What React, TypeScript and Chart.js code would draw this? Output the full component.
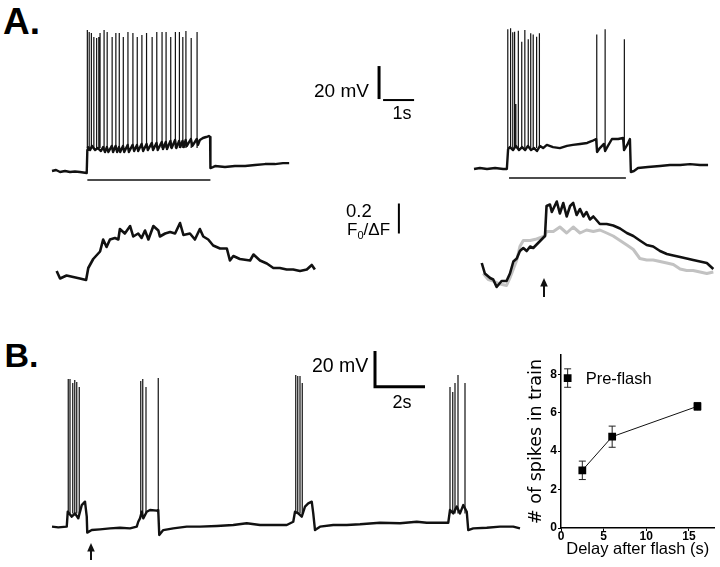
import React, { useEffect, useRef } from "react";
import { Chart, registerables } from "chart.js";

Chart.register(...registerables);

const SANS = "'Liberation Sans', Arial, Helvetica, sans-serif";
Chart.defaults.font.family = SANS;

// ================= DATA =================
// Panel A, left: membrane potential during a current step (time s, Vm mV)
const aLeftTime = [0, 0.13, 0.26, 0.42, 0.58, 0.74, 0.9, 1.12, 1.14, 1.16, 1.23, 1.29, 1.39, 1.48, 1.58, 1.65, 1.71, 1.77, 1.82, 1.93, 1.97, 2.05, 2.1, 2.16, 2.2, 2.29, 2.33, 2.44, 2.48, 2.6, 2.65, 2.74, 2.78, 2.89, 2.94, 3.05, 3.09, 3.22, 3.26, 3.37, 3.41, 3.54, 3.58, 3.67, 3.71, 3.82, 3.86, 3.97, 4.01, 4.1, 4.14, 4.21, 4.25, 4.31, 4.35, 4.48, 4.53, 4.67, 4.71, 4.77, 4.87, 4.97, 5.06, 5.1, 5.11, 5.19, 5.26, 5.58, 5.9, 6.23, 6.55, 6.87, 7.19, 7.45, 7.65];
const aLeftVm = [-60, -59.4, -60.6, -60, -60.6, -60.3, -60.6, -61.2, -47.3, -45.5, -47.3, -44.8, -47.3, -46.1, -47.9, -45.5, -48.5, -45.5, -48.5, -44.8, -48.5, -44.8, -48.5, -45.5, -48.5, -44.8, -48.5, -44.2, -48.5, -44.2, -47.9, -44.2, -47.9, -43.6, -47.9, -43.6, -47.3, -43, -47.3, -43, -47.3, -42.4, -46.7, -42.4, -46.7, -41.8, -46.1, -41.2, -46.1, -41.8, -45.5, -41.8, -45.5, -41.2, -44.8, -40.6, -44.8, -40.6, -44.2, -41.2, -40, -39.4, -38.8, -39.4, -58.2, -57.6, -57, -57.6, -57, -57, -56.4, -55.8, -55.8, -55.2, -55.2];
const aLeftSpikeTime = [1.14, 1.2, 1.27, 1.35, 1.44, 1.51, 1.55, 1.68, 1.78, 1.94, 2.06, 2.17, 2.3, 2.45, 2.61, 2.75, 2.9, 3.05, 3.23, 3.38, 3.55, 3.68, 3.83, 3.98, 4.11, 4.22, 4.32, 4.49, 4.68];
const aLeftSpikePeak = [25.5, 24.2, 23.6, 21.2, 20.6, 21.2, 23.6, 25.5, 24.2, 21.2, 23.6, 23.6, 21.2, 24.2, 23.6, 21.2, 22.4, 23.6, 21.2, 24.2, 24.2, 24.2, 21.2, 24.2, 24.2, 21.2, 24.8, 20.6, 24.2];
const aLeftStep = [1.14, 5.11]; // current step on / off (s)

// Panel A, right: membrane potential, flash during the step
const aRightTime = [0, 0.19, 0.42, 0.68, 0.94, 1.06, 1.1, 1.16, 1.26, 1.35, 1.45, 1.55, 1.65, 1.74, 1.84, 1.94, 2.03, 2.13, 2.23, 2.35, 2.55, 2.77, 3.0, 3.19, 3.42, 3.65, 3.81, 3.94, 3.97, 4.06, 4.19, 4.23, 4.32, 4.45, 4.65, 4.81, 4.84, 4.94, 5.03, 5.06, 5.16, 5.29, 5.61, 6.0, 6.32, 6.65, 6.97, 7.29, 7.55];
const aRightVm = [-58.8, -58.2, -58.8, -58.2, -58.8, -58.8, -46.7, -45.5, -47.3, -44.8, -47.3, -45.5, -47.3, -44.8, -47.3, -46.1, -47.9, -44.8, -46.1, -44.2, -45.5, -46.1, -44.8, -44.2, -43.6, -43, -41.8, -40.6, -48.5, -46.1, -43.6, -47.9, -44.8, -40.6, -40.6, -40, -47.3, -44.2, -40.6, -60.6, -60, -58.2, -57.6, -57, -56.4, -56.4, -55.8, -56.4, -56.4];
const aRightSpikeTime = [1.09, 1.18, 1.25, 1.31, 1.35, 1.43, 1.54, 1.64, 1.75, 1.83, 1.91, 2.02, 2.11, 3.96, 4.23, 4.85];
const aRightSpikePeak = [25.9, 26.5, 24.1, 24.4, -19.4, 25.0, 18.4, 25.5, 19.8, 23.5, 22.8, 21.4, 23.5, 22.8, 25.9, 19.8];
const aRightStep = [1.13, 4.9];
const aFlashTime = 2.26;

// Panel A, calcium (F0/ΔF)
const caLeftTime = [0.15, 0.26, 0.47, 0.9, 1.1, 1.17, 1.33, 1.55, 1.65, 1.76, 1.87, 2.03, 2.14, 2.19, 2.35, 2.52, 2.62, 2.78, 2.89, 3.0, 3.11, 3.27, 3.43, 3.48, 3.65, 3.81, 3.97, 4.13, 4.24, 4.45, 4.61, 4.77, 4.88, 5.04, 5.2, 5.42, 5.64, 5.74, 5.85, 6.06, 6.39, 6.5, 6.71, 6.93, 7.14, 7.35, 7.57, 7.78, 8.0, 8.22, 8.38, 8.48];
const caLeftF = [0.06, 0.01, 0.03, 0.01, 0.0, 0.08, 0.14, 0.19, 0.27, 0.22, 0.27, 0.28, 0.27, 0.34, 0.31, 0.36, 0.29, 0.31, 0.28, 0.33, 0.27, 0.36, 0.33, 0.29, 0.31, 0.32, 0.31, 0.38, 0.3, 0.31, 0.27, 0.34, 0.29, 0.27, 0.23, 0.21, 0.21, 0.13, 0.16, 0.14, 0.13, 0.17, 0.13, 0.11, 0.08, 0.08, 0.07, 0.07, 0.06, 0.07, 0.1, 0.07];
const caFlashTime = [0.25, 0.35, 0.52, 0.62, 0.73, 0.89, 1.05, 1.16, 1.27, 1.38, 1.48, 1.59, 1.7, 1.81, 1.91, 2.29, 2.34, 2.45, 2.51, 2.67, 2.77, 2.88, 2.99, 3.1, 3.2, 3.31, 3.42, 3.53, 3.63, 3.74, 3.85, 4.06, 4.28, 4.49, 4.71, 4.93, 5.14, 5.35, 5.57, 5.78, 6.0, 6.22, 6.43, 6.65, 6.86, 7.07, 7.29, 7.51, 7.72];
const caFlashF = [0.16, 0.09, 0.06, 0.05, 0.0, 0.04, 0.04, 0.09, 0.17, 0.19, 0.24, 0.26, 0.24, 0.27, 0.26, 0.34, 0.54, 0.55, 0.5, 0.57, 0.49, 0.56, 0.47, 0.54, 0.56, 0.48, 0.52, 0.47, 0.5, 0.45, 0.47, 0.42, 0.42, 0.41, 0.39, 0.36, 0.34, 0.31, 0.28, 0.27, 0.24, 0.22, 0.21, 0.2, 0.19, 0.18, 0.17, 0.16, 0.12];
const caControlTime = [0.3, 0.46, 0.62, 0.84, 1.05, 1.16, 1.38, 1.48, 1.59, 1.81, 2.02, 2.29, 2.34, 2.56, 2.77, 2.99, 3.2, 3.42, 3.63, 3.85, 4.06, 4.28, 4.49, 4.71, 4.93, 5.14, 5.35, 5.57, 5.78, 6.0, 6.22, 6.43, 6.65, 6.86, 7.07, 7.29, 7.51, 7.72];
const caControlF = [0.09, 0.05, 0.04, 0.02, 0.01, 0.06, 0.18, 0.27, 0.31, 0.31, 0.32, 0.34, 0.37, 0.37, 0.4, 0.36, 0.4, 0.36, 0.38, 0.37, 0.38, 0.36, 0.34, 0.31, 0.28, 0.25, 0.19, 0.18, 0.18, 0.17, 0.16, 0.15, 0.12, 0.11, 0.11, 0.1, 0.09, 0.1];

// Panel B: spontaneous bursts, flash at arrow
const bTime = [0, 0.25, 0.59, 0.63, 0.79, 0.92, 1.05, 1.19, 1.32, 1.39, 1.41, 1.59, 1.92, 2.32, 2.72, 3.12, 3.39, 3.45, 3.52, 3.59, 3.65, 3.79, 3.92, 4.19, 4.25, 4.29, 4.45, 4.85, 5.39, 5.92, 6.59, 7.25, 7.79, 8.32, 8.85, 9.39, 9.65, 9.72, 9.85, 9.99, 10.12, 10.25, 10.39, 10.45, 10.52, 10.72, 11.25, 11.79, 12.32, 13.12, 13.92, 14.59, 14.99, 15.85, 15.92, 16.05, 16.19, 16.32, 16.45, 16.59, 16.65, 16.85, 17.39, 17.92, 18.45, 18.72];
const bVm = [-59.8, -60.2, -59.8, -51.0, -53.9, -52.0, -54.9, -47.1, -45.1, -53.9, -63.3, -61.8, -61.4, -60.8, -60.4, -60.8, -59.8, -56.9, -54.9, -51.0, -54.9, -51.0, -50.0, -50.4, -50.0, -64.7, -61.8, -60.8, -59.8, -59.8, -59.4, -58.8, -57.8, -58.8, -58.8, -58.8, -56.9, -51.0, -52.0, -53.9, -48.0, -46.1, -45.1, -52.0, -61.8, -59.8, -58.8, -58.8, -58.4, -57.5, -57.8, -56.9, -57.5, -57.5, -50.0, -52.0, -48.0, -52.0, -47.1, -51.0, -61.8, -60.8, -60.4, -59.8, -59.8, -60.8];
const bSpikeTime = [0.65, 0.72, 0.83, 0.91, 0.99, 1.09, 3.55, 3.63, 3.76, 4.25, 9.75, 9.83, 9.92, 10.01, 15.92, 16.03, 16.12, 16.24, 16.52];
const bSpikePeak = [27.1, 27.1, 24.7, 26.5, 25.3, 22.4, 25.9, 27.1, 22.4, 27.6, 29.4, 28.8, 28.8, 24.7, 22.4, 19.4, 24.7, 29.4, 24.7];
const bFlashTime = 1.56;

// Scale bars (data units)
const aBarMv = 20;
const aBarSec = 1;
const caBarF = 0.2;
const bBarMv = 20;
const bBarSec = 2;

// Panel B, right: # of spikes in train vs delay after flash
const delaySec = [2.5, 6, 16];
const spikesMean = [3.0, 4.75, 6.33];
const spikesSem = [0.48, 0.55, 0.2];
const preFlashDelay = [0.78];
const preFlashMean = [7.8];
const preFlashSem = [0.48];
const xTicks = [0, 5, 10, 15];
const yTicks = [0, 2, 4, 6, 8];

// ================= HELPERS =================
type Rect = { left: number; top: number; width: number; height: number };
type Cal = { x0: number; sx: number; y0: number; sy: number };

const pts = (xs: number[], ys: number[]) => xs.map((x, i) => ({ x, y: ys[i] }));
const spikeSegs = (ts: number[], peaks: number[], foot: number) =>
  ts.flatMap((t, i) => [
    { x: t, y: foot },
    { x: t, y: peaks[i] },
    { x: t, y: null as any },
  ]);

function bounds(r: Rect, c: Cal) {
  return {
    xMin: (r.left - c.x0) / c.sx,
    xMax: (r.left + r.width - c.x0) / c.sx,
    yMax: (c.y0 - r.top) / c.sy,
    yMin: (c.y0 - r.top - r.height) / c.sy,
  };
}

function lineDs(data: any[], color: string, width: number, extra: any = {}) {
  return {
    type: "line",
    data,
    borderColor: color,
    borderWidth: width,
    pointRadius: 0,
    tension: 0,
    fill: false,
    spanGaps: false,
    borderJoinStyle: "round",
    borderCapStyle: "butt",
    ...extra,
  };
}

const arrowPlugin = {
  id: "flashArrow",
  afterDatasetsDraw(chart: any, _a: any, opts: any) {
    if (!opts || opts.time == null) return;
    const { ctx } = chart;
    const px = Math.round(chart.scales.x.getPixelForValue(opts.time));
    const tip = chart.scales.y.getPixelForValue(opts.tip);
    const tail = chart.scales.y.getPixelForValue(opts.tail);
    ctx.save();
    ctx.strokeStyle = "#111";
    ctx.fillStyle = "#111";
    ctx.lineWidth = 2;
    ctx.beginPath();
    ctx.moveTo(px, tail);
    ctx.lineTo(px, tip + 6);
    ctx.stroke();
    ctx.beginPath();
    ctx.moveTo(px, tip);
    ctx.lineTo(px - 3.8, tip + 8.5);
    ctx.lineTo(px + 3.8, tip + 8.5);
    ctx.closePath();
    ctx.fill();
    ctx.restore();
  },
};

function traceConfig(rect: Rect, cal: Cal, datasets: any[], arrow?: any): any {
  const b = bounds(rect, cal);
  return {
    type: "line",
    data: { datasets },
    options: {
      responsive: false,
      animation: false,
      events: [],
      layout: { padding: 0 },
      plugins: {
        legend: { display: false },
        tooltip: { enabled: false },
        flashArrow: arrow ?? {},
      },
      scales: {
        x: { type: "linear", display: false, min: b.xMin, max: b.xMax },
        y: { type: "linear", display: false, min: b.yMin, max: b.yMax },
      },
    },
    plugins: [arrowPlugin],
  };
}

const errorBarPlugin = {
  id: "errorBars",
  beforeDatasetsDraw(chart: any) {
    const { ctx } = chart;
    const ys = chart.scales.y;
    chart.data.datasets.forEach((ds: any, i: number) => {
      const meta = chart.getDatasetMeta(i);
      meta.data.forEach((el: any, j: number) => {
        const v = ds.data[j].y;
        const e = ds.errors[j];
        const top = ys.getPixelForValue(v + e);
        const bot = ys.getPixelForValue(v - e);
        ctx.save();
        ctx.strokeStyle = "#222";
        ctx.lineWidth = 1;
        ctx.beginPath();
        ctx.moveTo(el.x, top);
        ctx.lineTo(el.x, bot);
        ctx.moveTo(el.x - 3.5, top);
        ctx.lineTo(el.x + 3.5, top);
        ctx.moveTo(el.x - 3.5, bot);
        ctx.lineTo(el.x + 3.5, bot);
        ctx.stroke();
        ctx.restore();
      });
    });
  },
};

const pointLabelPlugin = {
  id: "pointLabel",
  afterDatasetsDraw(chart: any) {
    const { ctx } = chart;
    chart.data.datasets.forEach((ds: any, i: number) => {
      if (!ds.pointLabel) return;
      const el = chart.getDatasetMeta(i).data[0];
      ctx.save();
      ctx.fillStyle = "#000";
      ctx.font = `16.5px ${SANS}`;
      ctx.textBaseline = "middle";
      ctx.textAlign = "left";
      ctx.fillText(ds.label, el.x + 18, el.y + 1);
      ctx.restore();
    });
  },
};

function scatterConfig(): any {
  const tickFont = { size: 12, weight: "bold" as const };
  return {
    type: "scatter",
    data: {
      datasets: [
        {
          label: "Post-flash",
          data: pts(delaySec, spikesMean),
          errors: spikesSem,
          showLine: true,
          borderColor: "#111",
          borderWidth: 1,
          pointStyle: "rect",
          pointRadius: 5.5,
          pointBackgroundColor: "#000",
          pointBorderColor: "#000",
          pointBorderWidth: 0,
        },
        {
          label: "Pre-flash",
          data: pts(preFlashDelay, preFlashMean),
          errors: preFlashSem,
          pointLabel: true,
          showLine: false,
          pointStyle: "rect",
          pointRadius: 5.5,
          pointBackgroundColor: "#000",
          pointBorderColor: "#000",
          pointBorderWidth: 0,
        },
      ],
    },
    options: {
      responsive: false,
      animation: false,
      events: [],
      layout: { padding: { top: 10, right: 5, left: 0, bottom: 0 } },
      plugins: { legend: { display: false }, tooltip: { enabled: false } },
      scales: {
        x: {
          type: "linear",
          min: 0,
          max: 18,
          afterBuildTicks: (s: any) => {
            s.ticks = xTicks.map((v) => ({ value: v }));
          },
          afterFit: (s: any) => {
            s.height = 39;
          },
          grid: { drawOnChartArea: false, drawTicks: true, tickLength: 3, color: "#000", lineWidth: 1 },
          border: { display: true, color: "#000", width: 1.5 },
          ticks: { font: tickFont, color: "#000", padding: -2, maxRotation: 0, autoSkip: false },
          title: {
            display: true,
            text: "Delay after flash (s)",
            color: "#000",
            font: { size: 16.5, family: SANS },
            padding: { top: 0, bottom: 8 },
          },
        },
        y: {
          type: "linear",
          min: 0,
          max: 9,
          afterBuildTicks: (s: any) => {
            s.ticks = yTicks.map((v) => ({ value: v }));
          },
          afterFit: (s: any) => {
            s.width = 35;
          },
          grid: { drawOnChartArea: false, drawTicks: true, tickLength: 3, color: "#000", lineWidth: 1 },
          border: { display: true, color: "#000", width: 1.5 },
          ticks: { font: tickFont, color: "#000", padding: 1 },
          title: {
            display: true,
            text: "# of spikes in train",
            color: "#000",
            font: { size: 17.5, family: "'DejaVu Sans', sans-serif" },
            padding: { top: 0, bottom: 0 },
          },
        },
      },
    },
    plugins: [errorBarPlugin, pointLabelPlugin],
  };
}

// ================= LAYOUT =================
const R_A_VM_L: Rect = { left: 40, top: 20, width: 390, height: 172 };
const R_A_VM_R: Rect = { left: 460, top: 20, width: 260, height: 172 };
const R_A_CA_L: Rect = { left: 40, top: 195, width: 390, height: 100 };
const R_A_CA_R: Rect = { left: 460, top: 195, width: 260, height: 110 };
const R_B_VM: Rect = { left: 40, top: 340, width: 490, height: 227 };
const R_SCAT: Rect = { left: 526, top: 345, width: 194, height: 222 };

const CAL_A_VM_L: Cal = { x0: 52, sx: 31, y0: 72, sy: 1.65 };
const CAL_A_VM_R: Cal = { x0: 474, sx: 31, y0: 72, sy: 1.65 };
const CAL_A_CA_L: Cal = { x0: 52, sx: 31, y0: 280, sy: 150 };
const CAL_A_CA_R: Cal = { x0: 474, sx: 31, y0: 287, sy: 150 };
const CAL_B: Cal = { x0: 52, sx: 25, y0: 425, sy: 1.7 };

// scale bar anchors (in each panel's data units)
const A_BAR = { t: 10.55, v: -16.4, hT: 10.68, hV: -17.0 };
const CA_BAR = { t: 11.19, f: 0.31 };
const B_BAR = { t: 12.92, v: 23.5 };

function ChartBox({ rect, make }: { rect: Rect; make: () => any }) {
  const ref = useRef<HTMLCanvasElement>(null);
  useEffect(() => {
    const chart = new Chart(ref.current as HTMLCanvasElement, make());
    return () => chart.destroy();
  }, []);
  return (
    <canvas
      ref={ref}
      width={rect.width}
      height={rect.height}
      style={{ position: "absolute", left: rect.left, top: rect.top, width: rect.width, height: rect.height }}
    />
  );
}

function Label({
  x,
  y,
  size,
  bold,
  align = "left",
  children,
}: {
  x: number;
  y: number;
  size: number;
  bold?: boolean;
  align?: "left" | "center";
  children: React.ReactNode;
}) {
  const style: React.CSSProperties = {
    position: "absolute",
    top: y - 0.49 * size,
    fontSize: size,
    lineHeight: `${size}px`,
    fontFamily: SANS,
    fontWeight: bold ? 700 : 400,
    whiteSpace: "nowrap",
    color: "#000",
  };
  if (align === "center") {
    style.left = x - 60;
    style.width = 120;
    style.textAlign = "center";
  } else {
    style.left = x;
  }
  return <div style={style}>{children}</div>;
}

export default function App() {
  useEffect(() => {
    document.body.style.margin = "0";
  }, []);

  return (
    <div style={{ position: "absolute", left: 0, top: 0, width: 720, height: 567, background: "#fff", overflow: "hidden" }}>
      <ChartBox
        rect={R_A_VM_L}
        make={() =>
          traceConfig(R_A_VM_L, CAL_A_VM_L, [
            lineDs(pts(aLeftTime, aLeftVm), "#111", 2.4),
            lineDs(spikeSegs(aLeftSpikeTime, aLeftSpikePeak, -46), "#111", 1.2),
            lineDs(pts(aLeftStep, [-65.5, -65.5]), "#111", 1.5),
            lineDs(pts([A_BAR.t, A_BAR.t], [A_BAR.v, A_BAR.v + aBarMv]), "#000", 3),
            lineDs(pts([A_BAR.hT, A_BAR.hT + aBarSec], [A_BAR.hV, A_BAR.hV]), "#000", 2),
          ])
        }
      />
      <ChartBox
        rect={R_A_VM_R}
        make={() =>
          traceConfig(R_A_VM_R, CAL_A_VM_R, [
            lineDs(pts(aRightTime, aRightVm), "#111", 2.4),
            lineDs(spikeSegs(aRightSpikeTime, aRightSpikePeak, -46), "#111", 1.2),
            lineDs(pts(aRightStep, [-64.2, -64.2]), "#111", 1.5),
          ])
        }
      />
      <ChartBox
        rect={R_A_CA_L}
        make={() =>
          traceConfig(R_A_CA_L, CAL_A_CA_L, [
            lineDs(pts(caLeftTime, caLeftF), "#111", 2.6),
            lineDs(pts([CA_BAR.t, CA_BAR.t], [CA_BAR.f, CA_BAR.f + caBarF]), "#000", 2),
          ])
        }
      />
      <ChartBox
        rect={R_A_CA_R}
        make={() =>
          traceConfig(
            R_A_CA_R,
            CAL_A_CA_R,
            [
              lineDs(pts(caFlashTime, caFlashF), "#111", 2.6),
              lineDs(pts(caControlTime, caControlF), "#c2c2c2", 3),
            ],
            { time: aFlashTime, tip: 0.06, tail: -0.067 }
          )
        }
      />
      <ChartBox
        rect={R_B_VM}
        make={() =>
          traceConfig(
            R_B_VM,
            CAL_B,
            [
              lineDs(pts(bTime, bVm), "#111", 2.4),
              lineDs(spikeSegs(bSpikeTime, bSpikePeak, -52), "#111", 1.2),
              lineDs(
                pts([B_BAR.t, B_BAR.t, B_BAR.t + bBarSec], [B_BAR.v + bBarMv, B_BAR.v - 1, B_BAR.v - 1]),
                "#000",
                3,
                { borderJoinStyle: "miter" }
              ),
            ],
            { time: bFlashTime, tip: -69.4, tail: -79.4 }
          )
        }
      />
      <ChartBox rect={R_SCAT} make={scatterConfig} />

      <Label x={3} y={21.5} size={37} bold>
        A.
      </Label>
      <Label x={4.5} y={355} size={34} bold>
        B.
      </Label>
      <Label x={314} y={90} size={19}>
        20 mV
      </Label>
      <Label x={402} y={112.5} size={18} align="center">
        1s
      </Label>
      <Label x={346} y={211} size={18.5}>
        0.2
      </Label>
      <Label x={347} y={229} size={17}>
        F<sub style={{ fontSize: "0.65em", verticalAlign: "-0.35em", lineHeight: 0 }}>0</sub>/ΔF
      </Label>
      <Label x={312} y={366} size={19.5}>
        20 mV
      </Label>
      <Label x={402} y={402} size={18} align="center">
        2s
      </Label>
    </div>
  );
}
